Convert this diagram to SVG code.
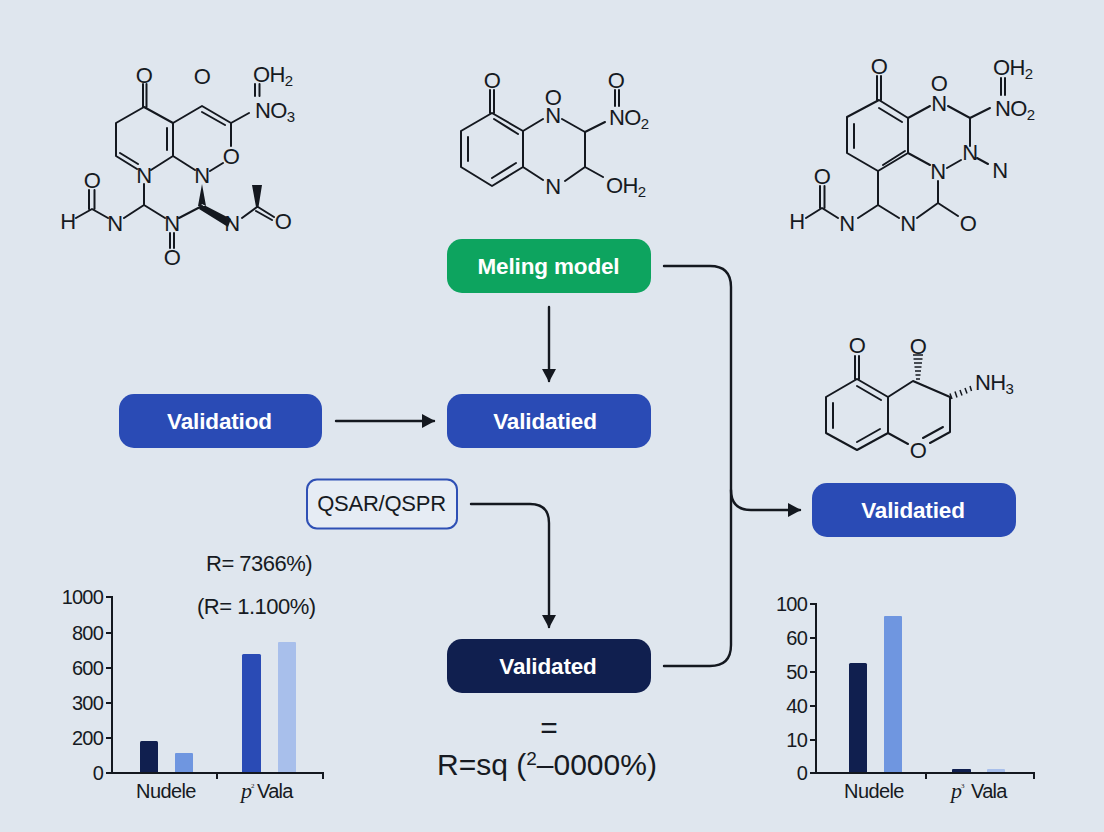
<svg xmlns="http://www.w3.org/2000/svg" width="1104" height="832" viewBox="0 0 1104 832">
<defs>
<style>
text{font-family:"Liberation Sans",Arial,sans-serif;fill:#161a22}
.m text{font-size:22px;letter-spacing:-.6px;text-anchor:middle}
.m text.l{text-anchor:start}
.m path{fill:none;stroke:#14181f;stroke-width:2;stroke-linecap:round;stroke-linejoin:round}
.m .w{fill:#14181f;stroke:none}
.m .h{stroke-width:1.5;stroke-linecap:butt}
.node text{font-size:22.500px;font-weight:700;letter-spacing:-.15px;text-anchor:middle;fill:#fff}
.con{fill:none;stroke:#14181f;stroke-width:2.400;stroke-linecap:round}
.ax{fill:none;stroke:#14181f;stroke-width:2}
.t{font-size:20px;letter-spacing:-.8px;text-anchor:end}
.c{font-size:20px;letter-spacing:-.6px;text-anchor:middle}
.v{font-size:20px;letter-spacing:-.7px}
.r{font-size:22px;letter-spacing:-.5px}
.p{font-family:"Liberation Serif",serif;font-style:italic;font-size:22px}
.s{font-family:"Liberation Serif",serif;font-size:7px}
</style>
<marker id="ah" markerUnits="userSpaceOnUse" markerWidth="14" markerHeight="16" refX="12" refY="7" orient="auto"><path d="M0 0L13 7L0 14Z" fill="#14181f"/></marker>
</defs>
<rect width="1104" height="832" fill="#dfe6ee"/>

<g id="molecule-1" class="m">
<path d="M143 84V107M146.500 84V107M144 107L116 123V156L137 169M120 153L138 164M151 170L173 156V123L144 107M167 150V128M173 123L202 106L231 123V146M202 112L225 125M231 123L249 113M173 156L195 170M210 171L223 163M255 96V84M259.500 96V84M144 184V205L124 218M144 205L165 218M108 218L92 209L76 218M89 209V190M94.500 209V190M179 218L202 206M170 233V248M174 233V248M242 218L257 207M258 207L274 217M256 211L272 220"/>
<path class="w" d="M202 184L198 206H206ZM202 204L231 219L228 227L199 209ZM252 185H262L258.500 207H256Z"/>
<text x="144" y="83">O</text><text x="202" y="84">O</text>
<text class="l" x="253" y="82">OH<tspan font-size="15" dy="4">2</tspan></text>
<text class="l" x="255" y="118">NO<tspan font-size="15" dy="4">3</tspan></text>
<text x="231" y="164">O</text><text x="144" y="183">N</text><text x="202" y="183">N</text>
<text x="92" y="188">O</text><text x="68" y="229">H</text><text x="115" y="231">N</text>
<text x="172" y="231">N</text><text x="172" y="265">O</text><text x="232" y="231">N</text><text x="283" y="229">O</text>
</g>

<g id="molecule-2" class="m">
<path d="M490 90V113M494 90V113M492 113L461 131V167L492 186L523 167V131L492 113M468 137V161M492 178L516 163M494 119L518 134M523 131L543 119M562 119L585 132V167L565 181M585 132L605 122M523 167L543 180M585 167L603 177M615 90V106M619 90V106"/>
<text x="492" y="88">O</text><text x="553" y="105">O</text><text x="553" y="123">N</text>
<text x="616" y="88">O</text><text class="l" x="609" y="125">NO<tspan font-size="15" dy="4">2</tspan></text>
<text x="553" y="194">N</text><text class="l" x="606" y="193">OH<tspan font-size="15" dy="4">2</tspan></text>
</g>

<g id="molecule-3" class="m">
<path d="M877 76V100M881 76V100M879 100L847 117V153L878 171L908 153V118L879 100M854 124V148M879 108L902 122M883 165L905 151M908 118L930 106M948 106L970 118V146M970 118L990 108M1001 95V78M1005 95V78M908 153L930 165M947 168L961 160M977 158L988 164M878 171V205L858 218M878 205L899 218M917 218L938 203V181M938 203L958 216M838 218L822 208L806 218M820 208V186M824.500 208V186"/>
<text x="879" y="74">O</text><text x="939" y="91">O</text><text x="939" y="111">N</text>
<text class="l" x="993" y="75">OH<tspan font-size="15" dy="4">2</tspan></text>
<text class="l" x="995" y="116">NO<tspan font-size="15" dy="4">2</tspan></text>
<text x="970" y="160">N</text><text x="1000" y="178">N</text><text x="938" y="179">N</text>
<text x="822" y="184">O</text><text x="797" y="229">H</text><text x="847" y="231">N</text><text x="908" y="231">N</text><text x="968" y="231">O</text>
</g>

<g id="molecule-4" class="m">
<path d="M855 356V379M859 356V379M857 379L826 397V433L857 450L888 433V397L857 379M833 403V428M857 442L880 429M857 386L881 400M888 397L913 381L950 397M888 433L908 444M950 397V432L930 443M943 427L923 438"/>
<path class="h" d="M913 355H923M913.500 359H922.500M914 363H922M914.500 367H921.500M915 371H921M915.500 375H920.500M916 379H920M950 393.500L952 399M955 391.500L957 397.500M960 390L962 395.500M965 388L967 393.500M970 386L971.500 391"/>
<text x="857" y="353">O</text><text x="918" y="354">O</text>
<text class="l" x="975" y="390">NH<tspan font-size="15" dy="4">3</tspan></text>
<text x="918" y="458">O</text>
</g>

<g id="connectors">
<path class="con" d="M664 266H710Q731 266 731 287V645Q731 666 710 666H664"/>
<path class="con" d="M731 490Q731 510 751 510H800" marker-end="url(#ah)"/>
<path class="con" d="M549 307V381" marker-end="url(#ah)"/>
<path class="con" d="M336 421H434" marker-end="url(#ah)"/>
<path class="con" d="M471 504H530Q549 504 549 523V627" marker-end="url(#ah)"/>
</g>

<g id="node-meling" class="node"><rect x="447" y="239" width="204" height="54" rx="15" fill="#0da45f"/><text x="548.500" y="274">Meling model</text></g>
<g id="node-validatiod" class="node"><rect x="119" y="394" width="203" height="54" rx="15" fill="#2a4bb5"/><text x="219.500" y="429">Validatiod</text></g>
<g id="node-validatied-center" class="node"><rect x="447" y="394" width="204" height="54" rx="15" fill="#2a4bb5"/><text x="545" y="429">Validatied</text></g>
<g id="node-validatied-right" class="node"><rect x="812" y="483" width="204" height="54" rx="15" fill="#2a4bb5"/><text x="913" y="518">Validatied</text></g>
<g id="node-qsar"><rect x="307" y="479.500" width="150" height="49" rx="10" fill="#e6ecf4" stroke="#2f50b5" stroke-width="2"/><text x="381.500" y="511" font-size="22" letter-spacing="-.25" text-anchor="middle">QSAR/QSPR</text></g>
<g id="node-validated" class="node"><rect x="447" y="639" width="204" height="54" rx="15" fill="#101f4f"/><text x="548" y="674">Validated</text></g>

<g id="formula">
<text x="549" y="738" font-size="30" text-anchor="middle">=</text>
<text x="437" y="775" font-size="30">R=sq (<tspan font-size="19" dy="-10">2</tspan><tspan dy="10">–0000%)</tspan></text>
</g>

<g id="chart-left">
<rect x="140" y="741" width="18" height="32" rx="1.500" fill="#101f4f"/><rect x="175" y="753" width="18" height="20" rx="1" fill="#6f96e0"/>
<rect x="242" y="654" width="19" height="119" rx="1.500" fill="#2a4bb5"/><rect x="278" y="642" width="18" height="131" rx="1" fill="#a8bfeb"/>
<path class="ax" d="M106 597H112V773M106 633H112M106 668H112M106 703H112M106 738H112M106 773H323V779M217 773V779"/>
<text class="t" x="103" y="604">1000</text><text class="t" x="103" y="640">800</text><text class="t" x="103" y="675">600</text><text class="t" x="103" y="710">300</text><text class="t" x="103" y="745">200</text><text class="t" x="103" y="780">0</text>
<text class="c" x="166" y="798">Nudele</text>
<text class="p" x="241" y="798">p</text><text class="s" x="251" y="788">2</text><text class="v" x="257" y="798">Vala</text>
<text class="r" x="206" y="571">R= 7366%)</text>
<text class="r" x="197" y="614" letter-spacing="-1">(R= 1.100%)</text>
</g>

<g id="chart-right">
<rect x="849" y="663" width="18" height="110" rx="1.500" fill="#101f4f"/><rect x="884" y="616" width="18" height="157" rx="1" fill="#6f96e0"/>
<rect x="952" y="769" width="19" height="4" rx="1" fill="#101f4f"/><rect x="987" y="769" width="18" height="4" rx="1" fill="#a8bfeb"/>
<path class="ax" d="M810 604H816V773M810 638H816M810 672H816M810 706H816M810 740H816M810 773H1034V779M926 773V779"/>
<text class="t" x="807" y="611">100</text><text class="t" x="807" y="645">60</text><text class="t" x="807" y="679">50</text><text class="t" x="807" y="713">40</text><text class="t" x="807" y="747">10</text><text class="t" x="807" y="780">0</text>
<text class="c" x="874" y="798">Nudele</text>
<text class="p" x="951" y="798">p</text><text class="s" x="961" y="788">3</text><text class="v" x="971" y="798">Vala</text>
</g>
</svg>
